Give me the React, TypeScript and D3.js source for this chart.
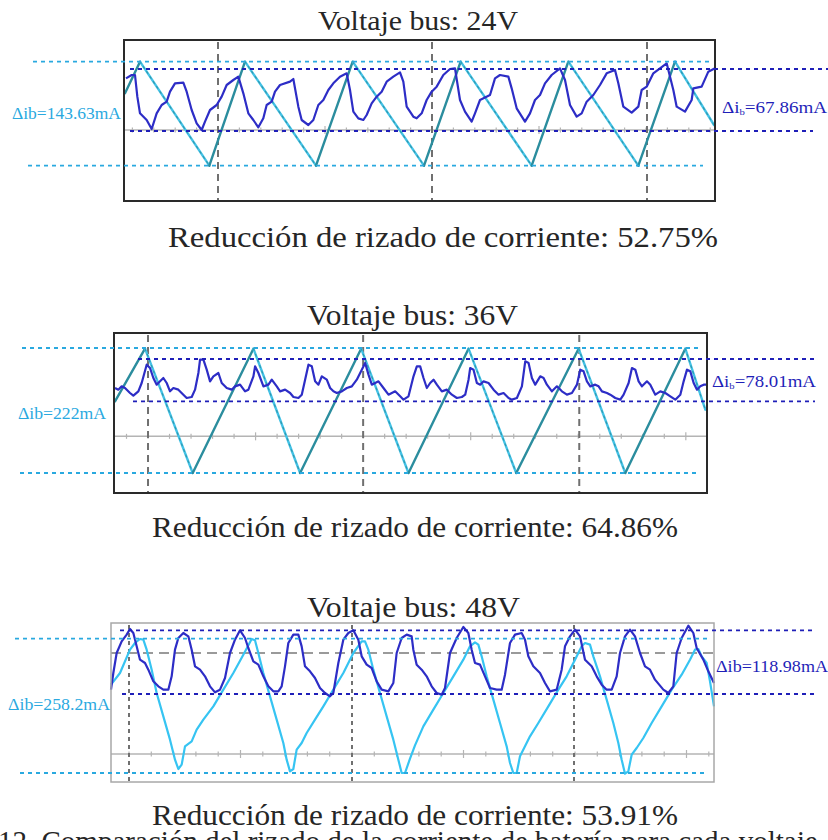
import React from 'react';
import * as d3 from 'd3';

type Pt = [number, number];

// ---------- Data (time in samples, current in ADC counts) ----------
// Panel 1: bus 24 V
const P1_SOURCE: Pt[] = [[3,323],[48,418],[256,106],[363,418],[576,106],[686,418],[900,106],[1010,418],[1223,106],[1333,418],[1543,106],[1653,418],[1770,228]];
const P1_BATT: Pt[] = [[6,368],[23,378],[33,378],[40,313],[48,263],[68,243],[83,216],[98,263],[113,288],[128,298],[138,328],[153,353],[178,355],[188,328],[203,273],[218,233],[233,213],[243,238],[258,273],[278,288],[293,313],[308,348],[328,363],[343,373],[358,323],[373,263],[388,243],[403,221],[418,248],[428,288],[443,298],[453,328],[468,348],[498,358],[508,366],[523,283],[533,243],[553,228],[568,243],[583,288],[598,303],[613,333],[628,353],[648,373],[668,383],[678,333],[688,268],[703,248],[718,243],[728,258],[743,293],[758,313],[773,328],[788,358],[808,373],[828,386],[838,358],[848,283],[868,253],[878,248],[893,263],[908,303],[923,328],[938,343],[958,378],[978,396],[993,398],[1008,303],[1023,268],[1043,238],[1053,263],[1068,303],[1098,318],[1113,368],[1128,378],[1153,373],[1163,338],[1178,278],[1203,238],[1218,263],[1233,303],[1248,318],[1263,353],[1283,378],[1308,398],[1323,363],[1338,288],[1358,253],[1373,263],[1388,298],[1408,318],[1428,348],[1448,383],[1473,393],[1483,353],[1498,283],[1523,265],[1543,283],[1553,333],[1568,343],[1588,383],[1628,413],[1648,333],[1658,283],[1683,268],[1703,303],[1708,338],[1733,343],[1753,388],[1773,398]];

// Panel 2: bus 36 V
const P2_SOURCE: Pt[] = [[3,275],[93,433],[236,60],[418,433],[558,60],[741,433],[883,60],[1063,433],[1206,60],[1393,433],[1533,60],[1713,433],[1773,250]];
const P2_BATT: Pt[] = [[3,315],[13,310],[23,320],[33,315],[48,300],[58,292],[73,305],[83,330],[98,385],[108,375],[118,345],[128,325],[138,335],[148,345],[158,330],[168,305],[178,315],[193,310],[208,295],[218,285],[233,288],[243,310],[253,360],[258,400],[268,400],[278,370],[288,335],[298,350],[313,360],[323,330],[338,315],[353,310],[363,320],[378,325],[393,305],[403,310],[418,350],[423,380],[433,360],[448,320],[463,325],[473,340],[488,320],[498,305],[513,310],[528,300],[538,288],[553,285],[563,295],[573,340],[583,385],[593,380],[603,335],[613,325],[623,350],[638,340],[648,315],[658,305],[668,300],[683,305],[698,315],[713,320],[728,340],[743,370],[753,390],[763,355],[773,325],[783,330],[793,335],[808,315],[823,295],[843,305],[858,290],[868,280],[883,290],[898,350],[908,380],[918,380],[928,345],[938,315],[948,330],[958,340],[968,325],[983,305],[998,310],[1013,295],[1028,285],[1043,288],[1053,295],[1063,340],[1068,375],[1078,370],[1088,330],[1098,325],[1108,335],[1123,330],[1138,310],[1153,295],[1168,300],[1183,285],[1193,280],[1208,285],[1223,320],[1233,395],[1243,390],[1253,345],[1263,325],[1278,350],[1288,345],[1298,325],[1313,305],[1328,320],[1343,305],[1358,295],[1373,300],[1388,325],[1398,370],[1408,365],[1418,335],[1428,320],[1443,325],[1453,320],[1463,305],[1478,300],[1488,295],[1503,285],[1518,280],[1528,295],[1543,330],[1553,375],[1563,370],[1573,335],[1583,320],[1598,335],[1608,325],[1623,295],[1638,305],[1653,300],[1668,290],[1683,280],[1698,295],[1708,335],[1718,370],[1728,365],[1738,330],[1748,310],[1758,320],[1768,325],[1776,325]];

// Panel 3: bus 48 V
const P3_SOURCE: Pt[] = [[0,292],[27,327],[57,397],[72,417],[87,429],[97,427],[107,397],[122,337],[137,267],[157,197],[177,127],[192,67],[202,39],[212,52],[222,107],[242,122],[257,157],[277,187],[307,227],[337,277],[367,327],[397,382],[422,429],[432,425],[442,387],[457,327],[477,257],[497,187],[517,117],[527,67],[537,32],[547,39],[557,97],[572,117],[587,147],[612,187],[637,227],[667,277],[697,327],[727,387],[752,422],[762,422],[772,397],[787,337],[807,267],[827,197],[847,127],[862,67],[872,27],[882,27],[897,70],[912,110],[937,167],[967,217],[997,267],[1027,317],[1057,367],[1077,407],[1092,419],[1102,412],[1112,377],[1127,317],[1147,247],[1167,177],[1187,107],[1197,57],[1207,27],[1217,27],[1227,77],[1242,107],[1257,137],[1282,177],[1312,227],[1342,277],[1367,317],[1392,367],[1412,407],[1422,417],[1437,412],[1447,377],[1467,317],[1487,247],[1507,177],[1522,117],[1532,67],[1542,25],[1552,32],[1562,82],[1577,102],[1597,132],[1622,177],[1652,227],[1682,277],[1712,322],[1737,367],[1752,397],[1762,399],[1772,377],[1787,357],[1797,302],[1809,227]];
const P3_BATT: Pt[] = [[0,277],[7,327],[17,387],[32,422],[47,442],[57,459],[67,447],[77,407],[87,367],[102,357],[112,337],[127,302],[142,287],[157,277],[172,277],[182,317],[192,397],[202,432],[217,447],[232,437],[242,397],[252,347],[267,337],[282,317],[297,287],[312,269],[327,277],[342,312],[357,387],[372,427],[387,455],[402,432],[412,402],[427,362],[442,352],[457,317],[472,287],[487,272],[502,272],[512,287],[522,347],[532,417],[547,442],[562,442],[572,407],[582,347],[597,332],[612,312],[627,282],[642,267],[657,257],[667,267],[682,357],[697,427],[712,447],[727,455],[742,427],[752,377],[767,352],[782,342],[797,302],[812,277],[832,272],[847,297],[857,387],[872,432],[887,442],[902,437],[907,397],[917,352],[932,337],[947,317],[962,287],[977,267],[992,262],[1002,282],[1017,387],[1037,432],[1057,465],[1072,447],[1082,397],[1092,357],[1107,352],[1122,317],[1137,282],[1157,277],[1172,277],[1182,322],[1197,417],[1212,442],[1232,447],[1242,427],[1252,377],[1267,347],[1287,327],[1302,297],[1317,272],[1337,277],[1352,337],[1362,407],[1377,437],[1392,457],[1407,437],[1422,367],[1442,347],[1457,317],[1472,292],[1487,277],[1502,277],[1517,317],[1527,387],[1542,437],[1557,457],[1572,437],[1587,387],[1602,347],[1617,337],[1632,307],[1657,277],[1672,267],[1687,287],[1697,387],[1712,432],[1732,469],[1747,447],[1757,402],[1777,367],[1792,332],[1809,297]];

// Cursor levels (counts): [source top, source bottom], [battery top, battery bottom]
const SOURCE_LEVELS: Pt[] = [[418, 106], [435, 60], [430, 27]];
const BATT_LEVELS: Pt[] = [[396, 210], [402, 275], [455, 264]];
const AXIS_LEVELS = [213, 170, 84];
const GRID_TIMES = [[282, 924, 1569], [102, 747, 1395], [54, 723, 1389]];
const TIME_SPANS = [1773, 1778, 1809];
const COUNT_SPANS = [483, 480, 477];

const BUS_VOLTAGES = ['24V', '36V', '48V'];
const REDUCTIONS = ['52.75%', '64.86%', '53.91%'];
const DELTA_SOURCE = ['143.63mA', '222mA', '258.2mA'];
const DELTA_BATT = ['67.86mA', '78.01mA', '118.98mA'];

const SOURCES = [P1_SOURCE, P2_SOURCE, P3_SOURCE];
const BATTS = [P1_BATT, P2_BATT, P3_BATT];

// ---------- Layout ----------
const LAYOUT = [
  {
    frame: { l: 124, r: 715, t: 40, b: 201 }, border: '#2a2a2a', bw: 2,
    title: { x: 418, y: 30, w: 200, fs: 27.5 }, sub: { x: 443, y: 247, w: 550, fs: 29.5 },
    leftLabel: { x: 12, y: 119, w: 109 }, rightLabel: { x: 722, y: 113, w: 105 }, subB: true,
    srcExt: [[33, 710], [28, 703]], batExt: [[130, 828], [130, 813]],
    srcTwoTone: true, midDash: null as number | null, gridDash: '7 5',
  },
  {
    frame: { l: 114, r: 707, t: 333, b: 493 }, border: '#2a2a2a', bw: 2,
    title: { x: 412.5, y: 325, w: 211, fs: 29 }, sub: { x: 415, y: 537, w: 526, fs: 28.5 },
    leftLabel: { x: 18, y: 419, w: 88 }, rightLabel: { x: 712, y: 387, w: 104 }, subB: true,
    srcExt: [[22, 700], [20, 697]], batExt: [[138, 815], [133, 815]],
    srcTwoTone: true, midDash: null as number | null, gridDash: '7 5',
  },
  {
    frame: { l: 111, r: 714, t: 623, b: 782 }, border: '#a8a8a8', bw: 1.5,
    title: { x: 413.5, y: 617, w: 213, fs: 29 }, sub: { x: 415, y: 825, w: 526, fs: 28.5 },
    leftLabel: { x: 8, y: 710, w: 102 }, rightLabel: { x: 716, y: 672, w: 112 }, subB: false,
    srcExt: [[15, 708], [20, 707]], batExt: [[120, 815], [122, 818]],
    srcTwoTone: false, midDash: 387 as number | null, gridDash: '4 4',
  },
];

const FONT = '"Liberation Serif", "DejaVu Serif", serif';
const TEXT_COL = '#262626';
const LIGHT = '#2aa9df';
const DARK = '#1f1fb8';
const BATT_COL = '#2d2dc6';
const CYAN = '#43c2e6';
const TEAL = '#2b8d9e';
const CYAN3 = '#36c4f2';

function Panel({ i }: { i: number }) {
  const L = LAYOUT[i];
  const f = L.frame;
  const x = d3.scaleLinear().domain([0, TIME_SPANS[i]]).range([f.l, f.r]);
  const y = d3.scaleLinear().domain([0, COUNT_SPANS[i]]).range([f.b, f.t]);
  const line = d3.line<Pt>().x(d => x(d[0])).y(d => y(d[1]));
  const grid = GRID_TIMES[i];
  const step = (grid[1] - grid[0]) / 10;
  const ticks = d3.range(-30, 40)
    .map(k => ({ t: grid[0] + k * step, major: ((k % 10) + 10) % 10 === 5 }))
    .filter(d => d.t > 0 && d.t < TIME_SPANS[i]);
  const src = SOURCES[i];
  const segs = d3.pairs(src);
  const axisY = y(AXIS_LEVELS[i]);
  const [sTop, sBot] = SOURCE_LEVELS[i];
  const [bTop, bBot] = BATT_LEVELS[i];

  return (
    <g>
      <rect x={f.l} y={f.t} width={f.r - f.l} height={f.b - f.t} fill="#fff" />
      {/* horizontal axis with ticks */}
      <line x1={f.l} x2={f.r} y1={axisY} y2={axisY} stroke="#b4b4b4" strokeWidth={1.5} />
      {ticks.map((d, k) => (
        <line key={k} x1={x(d.t)} x2={x(d.t)} y1={axisY - (d.major ? 4 : 2.5)} y2={axisY + (d.major ? 4 : 2.5)}
          stroke="#b4b4b4" strokeWidth={1.2} />
      ))}
      {L.midDash !== null && (
        <line x1={f.l} x2={f.r} y1={y(L.midDash)} y2={y(L.midDash)} stroke="#7a7a7a" strokeWidth={1.6} strokeDasharray="10 6" />
      )}
      {grid.map((t, k) => (
        <line key={k} x1={x(t)} x2={x(t)} y1={f.t + 2} y2={f.b} stroke="#707070" strokeWidth={2} strokeDasharray={L.gridDash} />
      ))}
      {/* source current (light) */}
      {L.srcTwoTone ? (
        <g fill="none" strokeLinejoin="round" strokeLinecap="round">
          {segs.map(([a, b], k) => (
            <g key={k}>
              <line x1={x(a[0])} y1={y(a[1])} x2={x(b[0])} y2={y(b[1])}
                stroke={b[1] > a[1] ? TEAL : CYAN} strokeWidth={2.4} />
              {b[1] <= a[1] && (
                <line x1={x(a[0])} y1={y(a[1])} x2={x(b[0])} y2={y(b[1])}
                  stroke={TEAL} strokeWidth={1.1} strokeDasharray="2 4" opacity={0.8} />
              )}
            </g>
          ))}
        </g>
      ) : (
        <path d={line(src) || ''} fill="none" stroke={CYAN3} strokeWidth={2.2} strokeLinejoin="round" />
      )}
      {/* battery current (dark) */}
      <path d={line(BATTS[i]) || ''} fill="none" stroke={BATT_COL} strokeWidth={2.2} strokeLinejoin="round" />
      {/* frame */}
      <rect x={f.l} y={f.t} width={f.r - f.l} height={f.b - f.t} fill="none" stroke={L.border} strokeWidth={L.bw} />
      {/* cursors */}
      <line x1={L.srcExt[0][0]} x2={L.srcExt[0][1]} y1={y(sTop)} y2={y(sTop)} stroke={LIGHT} strokeWidth={1.8} strokeDasharray="4 4" />
      <line x1={L.srcExt[1][0]} x2={L.srcExt[1][1]} y1={y(sBot)} y2={y(sBot)} stroke={LIGHT} strokeWidth={1.8} strokeDasharray="4 4" />
      <line x1={L.batExt[0][0]} x2={L.batExt[0][1]} y1={y(bTop)} y2={y(bTop)} stroke={DARK} strokeWidth={1.8} strokeDasharray="4 4" />
      <line x1={L.batExt[1][0]} x2={L.batExt[1][1]} y1={y(bBot)} y2={y(bBot)} stroke={DARK} strokeWidth={1.8} strokeDasharray="4 4" />
      {/* labels */}
      <text x={L.leftLabel.x} y={L.leftLabel.y} fill={LIGHT} fontFamily={FONT} fontSize={16}
        textLength={L.leftLabel.w} lengthAdjust="spacingAndGlyphs">{`Δib=${DELTA_SOURCE[i]}`}</text>
      {L.subB ? (
        <text x={L.rightLabel.x} y={L.rightLabel.y} fill={DARK} fontFamily={FONT} fontSize={16}
          textLength={L.rightLabel.w} lengthAdjust="spacingAndGlyphs">
          Δi<tspan fontSize={9} dy={2}>b</tspan><tspan dy={-2}>{`=${DELTA_BATT[i]}`}</tspan>
        </text>
      ) : (
        <text x={L.rightLabel.x} y={L.rightLabel.y} fill={DARK} fontFamily={FONT} fontSize={16}
          textLength={L.rightLabel.w} lengthAdjust="spacingAndGlyphs">{`Δib=${DELTA_BATT[i]}`}</text>
      )}
      <text x={L.title.x} y={L.title.y} textAnchor="middle" fill={TEXT_COL} fontFamily={FONT} fontSize={L.title.fs}
        textLength={L.title.w} lengthAdjust="spacingAndGlyphs">{`Voltaje bus: ${BUS_VOLTAGES[i]}`}</text>
      <text x={L.sub.x} y={L.sub.y} textAnchor="middle" fill={TEXT_COL} fontFamily={FONT} fontSize={L.sub.fs}
        textLength={L.sub.w} lengthAdjust="spacingAndGlyphs">{`Reducción de rizado de corriente: ${REDUCTIONS[i]}`}</text>
    </g>
  );
}

export default function App() {
  return (
    <svg width={828} height={840} viewBox="0 0 828 840"
      style={{ position: 'absolute', left: 0, top: 0, background: '#fff' }}>
      <rect x={0} y={0} width={828} height={840} fill="#fff" />
      {[0, 1, 2].map(i => <Panel key={i} i={i} />)}
      <text x={-2} y={851} fill={TEXT_COL} fontFamily={FONT} fontSize={29}>
        12. Comparación del rizado de la corriente de batería para cada voltaje
      </text>
    </svg>
  );
}
